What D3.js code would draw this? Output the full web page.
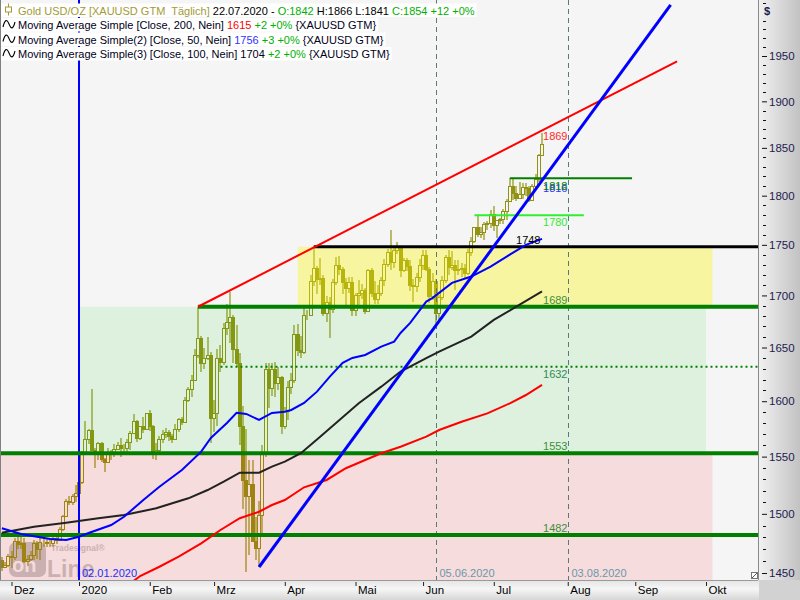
<!DOCTYPE html>
<html><head><meta charset="utf-8">
<script src="https://cdn.jsdelivr.net/npm/d3@7"></script>
<style>html,body{margin:0;padding:0;background:#fff;}svg{display:block;font-family:"Liberation Sans",Arial,sans-serif;}text{white-space:pre;}</style>
</head><body><svg id="c" width="800" height="600"></svg>
<script>
// ---------------- DATA ----------------
const dates = ["2019-11-27","2019-11-28","2019-11-29",
"2019-12-02","2019-12-03","2019-12-04","2019-12-05","2019-12-06","2019-12-09","2019-12-10","2019-12-11","2019-12-12","2019-12-13","2019-12-16","2019-12-17","2019-12-18","2019-12-19","2019-12-20","2019-12-23","2019-12-24","2019-12-26","2019-12-27","2019-12-30","2019-12-31",
"2020-01-02","2020-01-03","2020-01-06","2020-01-07","2020-01-08","2020-01-09","2020-01-10","2020-01-13","2020-01-14","2020-01-15","2020-01-16","2020-01-17","2020-01-20","2020-01-21","2020-01-22","2020-01-23","2020-01-24","2020-01-27","2020-01-28","2020-01-29","2020-01-30","2020-01-31",
"2020-02-03","2020-02-04","2020-02-05","2020-02-06","2020-02-07","2020-02-10","2020-02-11","2020-02-12","2020-02-13","2020-02-14","2020-02-17","2020-02-18","2020-02-19","2020-02-20","2020-02-21","2020-02-24","2020-02-25","2020-02-26","2020-02-27","2020-02-28",
"2020-03-02","2020-03-03","2020-03-04","2020-03-05","2020-03-06","2020-03-09","2020-03-10","2020-03-11","2020-03-12","2020-03-13","2020-03-16","2020-03-17","2020-03-18","2020-03-19","2020-03-20","2020-03-23","2020-03-24","2020-03-25","2020-03-26","2020-03-27","2020-03-30","2020-03-31",
"2020-04-01","2020-04-02","2020-04-03","2020-04-06","2020-04-07","2020-04-08","2020-04-09","2020-04-10","2020-04-13","2020-04-14","2020-04-15","2020-04-16","2020-04-17","2020-04-20","2020-04-21","2020-04-22","2020-04-23","2020-04-24","2020-04-27","2020-04-28","2020-04-29","2020-04-30",
"2020-05-01","2020-05-04","2020-05-05","2020-05-06","2020-05-07","2020-05-08","2020-05-11","2020-05-12","2020-05-13","2020-05-14","2020-05-15","2020-05-18","2020-05-19","2020-05-20","2020-05-21","2020-05-22","2020-05-25","2020-05-26","2020-05-27","2020-05-28","2020-05-29",
"2020-06-01","2020-06-02","2020-06-03","2020-06-04","2020-06-05","2020-06-08","2020-06-09","2020-06-10","2020-06-11","2020-06-12","2020-06-15","2020-06-16","2020-06-17","2020-06-18","2020-06-19","2020-06-22","2020-06-23","2020-06-24","2020-06-25","2020-06-26","2020-06-29","2020-06-30",
"2020-07-01","2020-07-02","2020-07-03","2020-07-06","2020-07-07","2020-07-08","2020-07-09","2020-07-10","2020-07-13","2020-07-14","2020-07-15","2020-07-16","2020-07-17","2020-07-20","2020-07-21","2020-07-22"];
const open = [1461,1455,1457,
1464,1463,1477,1474,1475,1460,1462,1465,1475,1470,1476,1476,1475,1475,1479,1478,1487,1498,1511,1510,1515,
1518,1528,1552,1566,1574,1556,1552,1562,1548,1545,1554,1552,1557,1560,1558,1558,1563,1571,1582,1567,1577,1575,
1589,1577,1552,1556,1566,1570,1572,1568,1566,1575,1584,1581,1601,1611,1620,1643,1659,1635,1640,1643,
1585,1589,1640,1636,1669,1674,1679,1649,1635,1577,1529,1515,1526,1477,1471,1499,1553,1630,1612,1630,1617,1622,
1577,1591,1613,1620,1663,1648,1646,1681,1681,1714,1727,1716,1717,1683,1694,1687,1713,1730,1726,1713,1707,1713,
1686,1700,1702,1705,1685,1725,1702,1697,1702,1715,1731,1743,1733,1745,1748,1725,1735,1729,1710,1709,1718,
1730,1740,1726,1699,1714,1683,1698,1715,1738,1728,1730,1725,1726,1727,1722,1743,1754,1768,1761,1763,1771,1772,
1781,1770,1775,1776,1784,1795,1810,1803,1798,1802,1809,1808,1796,1810,1817,1842];
const high = [1463,1459,1466,
1468,1479,1483,1482,1479,1465,1468,1478,1477,1479,1480,1479,1479,1482,1481,1489,1499,1513,1515,1517,1525,
1530,1555,1582,1575,1611,1558,1563,1563,1549,1558,1556,1561,1563,1567,1561,1566,1573,1588,1583,1577,1586,1589,
1592,1578,1562,1568,1574,1576,1574,1570,1579,1585,1586,1604,1613,1624,1649,1689,1661,1650,1660,1646,
1601,1649,1652,1673,1692,1703,1681,1671,1645,1596,1575,1547,1547,1497,1511,1560,1635,1635,1635,1636,1632,1623,
1595,1619,1626,1671,1672,1661,1690,1686,1720,1747,1729,1737,1720,1699,1698,1716,1738,1739,1728,1717,1718,1718,
1702,1715,1711,1707,1726,1727,1714,1710,1718,1736,1746,1765,1749,1753,1749,1737,1737,1735,1716,1722,1736,
1745,1745,1728,1722,1716,1700,1719,1740,1745,1744,1735,1735,1732,1731,1746,1758,1768,1779,1768,1773,1774,1785,
1789,1775,1777,1786,1797,1818,1818,1810,1814,1813,1813,1810,1812,1822,1844,1866];
const low = [1452,1454,1455,
1454,1461,1470,1470,1458,1456,1460,1461,1462,1461,1472,1472,1472,1472,1474,1477,1485,1497,1508,1508,1510,
1517,1526,1552,1561,1556,1540,1547,1545,1536,1544,1547,1550,1556,1550,1551,1554,1556,1570,1563,1565,1571,1574,
1573,1548,1547,1552,1562,1567,1564,1562,1565,1572,1578,1580,1599,1604,1619,1640,1627,1630,1638,1562,
1572,1577,1627,1634,1662,1654,1635,1632,1560,1504,1451,1465,1477,1461,1455,1482,1550,1594,1605,1604,1610,1570,
1575,1583,1607,1617,1642,1640,1644,1676,1680,1709,1701,1710,1680,1674,1659,1683,1710,1720,1701,1691,1702,1680,
1680,1691,1697,1682,1684,1698,1692,1692,1699,1709,1728,1725,1727,1741,1718,1723,1724,1704,1694,1703,1713,
1725,1724,1693,1696,1670,1675,1696,1712,1720,1725,1705,1720,1718,1717,1720,1739,1752,1758,1757,1755,1765,1767,
1764,1757,1771,1771,1775,1793,1796,1795,1797,1797,1800,1794,1796,1806,1814,1841];
const close = [1455,1457,1464,
1463,1477,1474,1475,1460,1462,1465,1475,1470,1476,1476,1475,1475,1479,1478,1487,1498,1511,1510,1515,1518,
1528,1552,1566,1574,1556,1552,1562,1548,1545,1554,1552,1557,1560,1558,1558,1563,1571,1582,1567,1577,1575,1589,
1577,1552,1556,1566,1570,1572,1568,1566,1575,1584,1581,1601,1611,1620,1643,1659,1635,1640,1643,1585,
1589,1640,1636,1669,1674,1679,1649,1635,1577,1529,1515,1526,1477,1471,1499,1553,1630,1612,1630,1617,1622,1577,
1591,1613,1620,1663,1648,1646,1681,1681,1714,1727,1716,1717,1683,1694,1687,1713,1730,1726,1713,1707,1713,1686,
1700,1702,1705,1685,1725,1702,1697,1702,1715,1731,1743,1733,1745,1748,1725,1735,1729,1710,1709,1718,1730,
1740,1726,1699,1714,1683,1698,1715,1738,1728,1730,1725,1726,1727,1722,1743,1754,1768,1761,1763,1771,1772,1781,
1770,1775,1776,1784,1795,1810,1803,1798,1802,1809,1808,1796,1810,1817,1842,1854];

// Moving averages
const sma50Dates = ["2019-11-27","2019-12-05","2019-12-18","2019-12-26","2020-01-02","2020-01-07","2020-01-16","2020-01-22","2020-01-30","2020-02-06","2020-02-17","2020-02-25","2020-02-28","2020-03-06","2020-03-11","2020-03-16","2020-03-20","2020-03-26","2020-04-01","2020-04-03","2020-04-09","2020-04-15","2020-04-21","2020-04-27","2020-04-30","2020-05-06","2020-05-13","2020-05-19","2020-05-21","2020-05-26","2020-06-02","2020-06-04","2020-06-12","2020-06-22","2020-06-30","2020-07-07","2020-07-15","2020-07-22"];
const sma50Vals = [1487.6,1482.8,1478.5,1477.7,1480.5,1483.6,1490.4,1497.5,1512,1523.5,1538.2,1554.4,1566.6,1580.2,1589.5,1588.4,1582.9,1589.3,1590.4,1592,1598.4,1608.8,1622.7,1635.5,1640.2,1643,1650.8,1655.6,1663.8,1673.4,1694,1697.6,1712.3,1718.5,1728.3,1738.3,1750,1756];
const sma100Dates = ["2019-11-27","2019-12-11","2019-12-26","2020-01-10","2020-01-22","2020-01-30","2020-02-05","2020-02-12","2020-02-19","2020-02-27","2020-03-05","2020-03-12","2020-03-20","2020-03-26","2020-04-01","2020-04-08","2020-04-16","2020-04-24","2020-05-04","2020-05-13","2020-05-21","2020-06-02","2020-06-08","2020-06-22","2020-07-01","2020-07-10","2020-07-22"];
const sma100Vals = [1483.9,1489,1492.4,1496.2,1499,1502.4,1504.8,1509.1,1513.4,1520.6,1527.9,1535.8,1535.8,1541.1,1545.5,1553,1567.8,1582.9,1598.1,1613.4,1627.4,1639.9,1646.2,1660.3,1676.3,1689.1,1704];
const sma200Dates = ["2020-01-27","2020-01-29","2020-02-06","2020-02-14","2020-02-25","2020-03-04","2020-03-12","2020-03-20","2020-03-26","2020-04-01","2020-04-09","2020-04-20","2020-04-28","2020-05-06","2020-05-13","2020-05-21","2020-06-02","2020-06-08","2020-06-17","2020-06-29","2020-07-08","2020-07-15","2020-07-22"];
const sma200Vals = [1443.4,1447.5,1455.2,1463.6,1474.9,1486.2,1496.2,1501.8,1507.6,1511.9,1523,1529.4,1539.7,1547,1553,1558.8,1567.8,1573.8,1581.3,1588.9,1598.1,1605.7,1615];

// Drawing tools: horizontal levels, trend lines, zones, vertical markers
const levelVals   = [1748, 1689, 1632, 1553, 1482, 1818, 1780];
const levelStarts = ["2020-04-14","2020-02-24","2020-03-04", null, null, "2020-07-08","2020-06-23"];
const levelEnds   = [null, null, null, null, null, "2020-08-31","2020-08-10"];
const trendDates  = [["2020-02-24","2020-09-18"], ["2020-03-20","2020-09-16"]];
const trendPrices = [[1689, 1944], [1455, 2008]];
const trendLast   = [1869, 1816];
const zoneLo    = [1400, 1553, 1689];
const zoneHi    = [1553, 1689, 1748];
const zoneStart = [null, "2020-01-02", "2020-04-07"];
const zoneEnd   = ["2020-10-05", "2020-10-01", "2020-10-05"];
const markerDates  = ["2020-01-02","2020-06-05","2020-08-03"];
const markerLabels = ["02.01.2020","05.06.2020","03.08.2020"];
const monthTickDates = ["2019-12-02","2020-01-02","2020-02-03","2020-03-02","2020-04-01","2020-05-01","2020-06-01","2020-07-01","2020-08-03","2020-09-01","2020-10-01"];
const monthLabels = ["Dez","2020","Feb","Mrz","Apr","Mai","Jun","Jul","Aug","Sep","Okt"];
const priceTicks = [1450,1500,1550,1600,1650,1700,1750,1800,1850,1900,1950];
const holidays = ["2019-12-25","2020-01-01"];

// ---------------- HELPERS ----------------
const DAY = 864e5, BASE = Date.UTC(2019,11,2);
const iso = t => new Date(t).toISOString().slice(0,10);
function tIdx(s){
  const t = Date.parse(s+"T00:00:00Z"); let n = 0;
  const isTD = d => { const w = new Date(d).getUTCDay(); return w!==0 && w!==6 && !holidays.includes(iso(d)); };
  if (t >= BASE) { for (let d=BASE; d<t; d+=DAY) if (isTD(d)) n++; }
  else { for (let d=t; d<BASE; d+=DAY) if (isTD(d)) n--; }
  return n;
}

// ---------------- LAYOUT ----------------
const PR = 758, PB = 580;
const svg = d3.select("#c");
const x = d3.scaleLinear().domain([0,216]).range([11.5,706]);
const y = d3.scaleLog().domain([1450,1950]).range([573,56]);
const X = s => x(tIdx(s));

const defs = svg.append("defs");
defs.append("clipPath").attr("id","clip").append("rect").attr("x",0).attr("y",0).attr("width",PR).attr("height",PB);
const gr = defs.append("linearGradient").attr("id","gR").attr("x1",0).attr("x2",1).attr("y1",0).attr("y2",0);
gr.append("stop").attr("offset","0%").attr("stop-color","#f2f2f2");
gr.append("stop").attr("offset","100%").attr("stop-color","#c2c2c2");
const gb = defs.append("linearGradient").attr("id","gB").attr("x1",0).attr("x2",0).attr("y1",0).attr("y2",1);
gb.append("stop").attr("offset","0%").attr("stop-color","#e4e4e4");
gb.append("stop").attr("offset","45%").attr("stop-color","#f6f6f6");
gb.append("stop").attr("offset","100%").attr("stop-color","#d6d6d6");

svg.append("rect").attr("width",800).attr("height",600).attr("fill","#fff");
const plot = svg.append("g").attr("clip-path","url(#clip)");
plot.append("rect").attr("width",PR).attr("height",PB).attr("fill","#f5f5f5");

// watermark
const wm = plot.append("g").attr("opacity",0.38).attr("fill","#777");
wm.append("rect").attr("x",9).attr("y",542).attr("width",37).attr("height",35).attr("rx",7);
wm.append("text").attr("x",12).attr("y",572).attr("font-size",20).attr("font-weight","bold").attr("fill","#f0f0f0").text("on");
wm.append("text").attr("x",47).attr("y",577).attr("font-size",23).attr("font-weight","bold").text("Line");
wm.append("text").attr("x",51).attr("y",551).attr("font-size",8.5).attr("font-weight","bold").text("Tradesignal®");

// candles
const candleCol = "#929212";
const gC = plot.append("g");
dates.forEach((d,i) => {
  const cx = Math.round(X(d));
  const o=open[i], h=high[i], l=low[i], c=close[i];
  const yt = Math.round(y(Math.max(o,c))), yb = Math.round(y(Math.min(o,c)));
  const yh = Math.round(y(h)), yl = Math.round(y(l));
  gC.append("line").attr("x1",cx).attr("x2",cx).attr("y1",yh).attr("y2",yt).attr("stroke",candleCol).attr("stroke-width",1.2);
  gC.append("line").attr("x1",cx).attr("x2",cx).attr("y1",yb).attr("y2",yl).attr("stroke",candleCol).attr("stroke-width",1.2);
  gC.append("rect").attr("x",cx-1.5).attr("y",yt+0.5).attr("width",3).attr("height",Math.max(yb-yt,0))
    .attr("fill", c<o ? candleCol : "none").attr("stroke",candleCol);
});

// zones (translucent overlays)
const zoneFill = ["rgba(255,0,0,0.10)","rgba(0,212,0,0.09)","rgba(254,245,0,0.34)"];
zoneLo.forEach((lo,i) => {
  const x0 = zoneStart[i] ? X(zoneStart[i]) : 0, x1 = X(zoneEnd[i]);
  plot.append("rect").attr("x",x0).attr("y",y(zoneHi[i])).attr("width",x1-x0).attr("height",y(lo)-y(zoneHi[i])).attr("fill",zoneFill[i]);
});

// vertical markers
const markerCol = ["#0000ff","#5a7a7a","#5a7a7a"];
markerDates.forEach((d,i) => {
  const xx = Math.round(X(d)) + (i===0?0:0.5);
  const ln = plot.append("line").attr("x1",xx).attr("x2",xx).attr("y1",0).attr("y2",PB).attr("stroke",markerCol[i]).attr("stroke-width", i===0?2:1);
  if (i>0) ln.attr("stroke-dasharray","5,4");
  plot.append("text").attr("x",xx+3).attr("y",577).attr("font-size",11).attr("fill", i===0?"#2030ff":"#6a98aa").text(markerLabels[i]);
});

// horizontal levels
const levelCol = ["#000000","#007f00","#007f00","#007f00","#007f00","#008000","#2ef02e"];
const levelW = [3,4,2,4,4,2,2];
levelVals.forEach((v,i) => {
  const x0 = levelStarts[i] ? X(levelStarts[i]) : 0, x1 = levelEnds[i] ? X(levelEnds[i]) : PR;
  const ln = plot.append("line").attr("x1",x0).attr("x2",x1).attr("y1",y(v)).attr("y2",y(v)).attr("stroke",levelCol[i]).attr("stroke-width",levelW[i]);
  if (v===1632) ln.attr("stroke-dasharray","2,3");
});

// MAs
const line = d3.line().x(d=>X(d[0])).y(d=>y(d[1]));
const maDefs = [[sma200Dates,sma200Vals,"#ff0000"],[sma100Dates,sma100Vals,"#222222"],[sma50Dates,sma50Vals,"#0000ff"]];
maDefs.forEach(([ds,vs,col]) => {
  plot.append("path").attr("d", line(ds.map((d,i)=>[d,vs[i]]))).attr("fill","none").attr("stroke",col).attr("stroke-width",2);
});

// trend lines
const trendCol = ["#ff0000","#0000ff"], trendW = [2,3];
trendDates.forEach((ds,i) => {
  plot.append("line").attr("x1",X(ds[0])).attr("y1",y(trendPrices[i][0])).attr("x2",X(ds[1])).attr("y2",y(trendPrices[i][1]))
    .attr("stroke",trendCol[i]).attr("stroke-width",trendW[i]);
});

// value labels
const lastX = X(dates[dates.length-1]);
const labG = plot.append("g").attr("font-size",11);
const labSpec = [
  [levelVals[0], "#000", -3, -26],
  [levelVals[1], "#3d8f3d", -3, 1],
  [levelVals[2], "#2e8b57", 11.5, 1],
  [levelVals[3], "#3d8f3d", -3, 1],
  [levelVals[4], "#3d8f3d", -3, 1],
  [levelVals[6], "#33e833", 11, 1],
  [trendLast[1], "#3333ff", 11.5, 1],
  [levelVals[5], "#008000", 11.5, 1],
];
labSpec.forEach(([v,col,dy,dx]) => {
  labG.append("text").attr("x",lastX+dx).attr("y",y(v)+dy).attr("fill",col).text(v);
});
labG.append("text").attr("x",lastX+1).attr("y",y(trendLast[0])+10).attr("fill","#ff2a2a").text(trendLast[0]);

// plot borders
svg.append("line").attr("x1",0.5).attr("x2",0.5).attr("y1",0).attr("y2",PB).attr("stroke","#808080");

// legend
const fmt0 = v => String(Math.round(v));
const legendRows = [
  [["Gold USD/OZ [XAUUSD GTM  Täglich]","#a39a34"],[" 22.07.2020 - ","#000"],["O:"+open[open.length-1],"#00b000"],[" H:"+high[high.length-1]+" L:"+low[low.length-1]+" ","#000"],["C:"+close[close.length-1]+" +12 +0%","#00b000"]],
  [["Moving Average Simple [Close, 200, Nein] ","#000020"],[fmt0(sma200Vals[sma200Vals.length-1]),"#ff0000"],[" +2 +0%","#00b000"],[" {XAUUSD GTM}","#000020"]],
  [["Moving Average Simple(2) [Close, 50, Nein] ","#000020"],[fmt0(sma50Vals[sma50Vals.length-1]),"#3333ff"],[" +3 +0%","#00b000"],[" {XAUUSD GTM}","#000020"]],
  [["Moving Average Simple(3) [Close, 100, Nein] ","#000020"],[fmt0(sma100Vals[sma100Vals.length-1]),"#000020"],[" +2 +0%","#00b000"],[" {XAUUSD GTM}","#000020"]]
];
const legBase = [14.5, 29, 43.5, 58];
legendRows.forEach((row,r) => {
  const g = svg.append("g");
  const bg = g.append("rect").attr("fill","#fff");
  const t = g.append("text").attr("x",18).attr("y",legBase[r]).attr("font-size",11);
  row.forEach(([s,c]) => t.append("tspan").attr("fill",c).text(s));
  const w = t.node().getComputedTextLength();
  bg.attr("x",1).attr("y",legBase[r]-11).attr("width",w+19).attr("height",13.5);
  if (r===0) {
    g.append("line").attr("x1",8.5).attr("x2",8.5).attr("y1",legBase[r]-11).attr("y2",legBase[r]+1).attr("stroke","#a39a34");
    g.append("rect").attr("x",5.5).attr("y",legBase[r]-7.5).attr("width",6).attr("height",5).attr("fill","#fff").attr("stroke","#a39a34");
  } else {
    g.append("path").attr("d",`M3,${legBase[r]-2} C5,${legBase[r]-10} 7,${legBase[r]-10} 9,${legBase[r]-5} S13,${legBase[r]+1} 15,${legBase[r]-7}`)
      .attr("fill","none").attr("stroke","#000").attr("stroke-width",1.1);
  }
});

// right axis
svg.append("rect").attr("x",PR).attr("y",0).attr("width",800-PR).attr("height",PB).attr("fill","url(#gR)");
svg.append("line").attr("x1",PR+0.5).attr("x2",PR+0.5).attr("y1",0).attr("y2",PB).attr("stroke","#8a8a8a");
const minor = d3.range(1450,2020,10).filter(v=>v%50!==0);
svg.append("g").selectAll("line").data(minor).join("line")
  .attr("x1",PR+5).attr("x2",PR+8).attr("y1",d=>Math.round(y(d))+0.5).attr("y2",d=>Math.round(y(d))+0.5).attr("stroke","#111");
const ay = svg.append("g").attr("transform",`translate(${PR+4},0)`)
  .call(d3.axisRight(y).tickValues(priceTicks).tickFormat(d3.format("d")).tickSize(5).tickPadding(2));
ay.select(".domain").remove();
ay.selectAll("line").attr("stroke","#111");
ay.selectAll("text").attr("font-size",11.5).attr("fill","#1c1c50").attr("font-family","Liberation Sans, Arial, sans-serif");
svg.append("text").attr("x",764).attr("y",15).attr("font-size",11).attr("font-weight","bold").attr("fill","#1c1c50").text("$");

// bottom axis
svg.append("rect").attr("x",0).attr("y",PB).attr("width",PR+1).attr("height",600-PB).attr("fill","url(#gB)");
svg.append("rect").attr("x",PR+1).attr("y",PB).attr("width",800-PR-1).attr("height",600-PB).attr("fill","#d2d2d2");
svg.append("line").attr("x1",0).attr("x2",PR).attr("y1",PB+0.5).attr("y2",PB+0.5).attr("stroke","#9a9a9a");
const ax = svg.append("g").attr("transform",`translate(0,${PB+2})`)
  .call(d3.axisBottom(x).tickValues(monthTickDates.map(tIdx)).tickFormat((d,i)=>monthLabels[i]).tickSize(4).tickPadding(2));
ax.select(".domain").remove();
ax.selectAll("line").attr("stroke","#222");
ax.selectAll("text").attr("text-anchor","start").attr("dx",2).attr("dy","0.55em").attr("font-size",11.5).attr("fill","#000").attr("font-family","Liberation Sans, Arial, sans-serif");

// resize grip
svg.append("rect").attr("x",751.5).attr("y",572.5).attr("width",6).attr("height",6).attr("fill","#fff").attr("stroke","#777");
svg.append("line").attr("x1",752).attr("y1",578).attr("x2",757).attr("y2",573).attr("stroke","#555");
</script></body></html>
